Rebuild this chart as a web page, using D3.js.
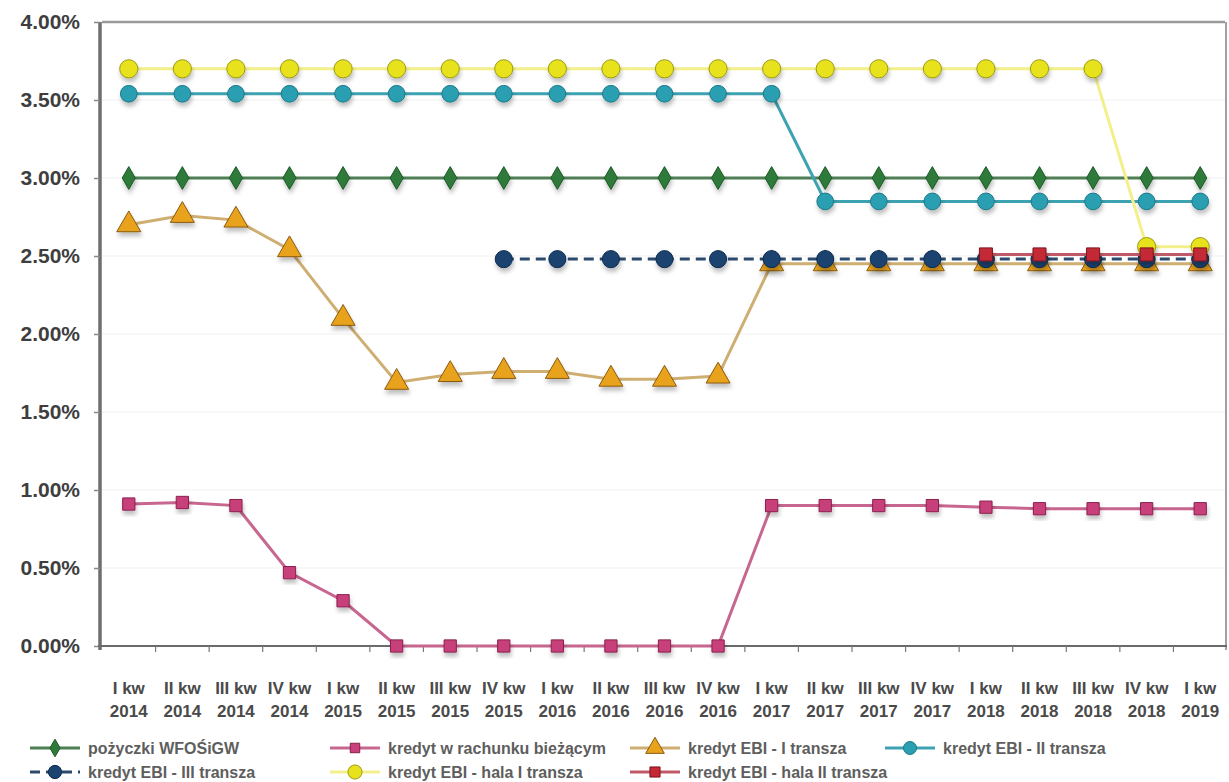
<!DOCTYPE html>
<html>
<head>
<meta charset="utf-8">
<script src="https://cdn.jsdelivr.net/npm/d3@7/dist/d3.min.js"></script>
<style>
  html, body { margin: 0; padding: 0; background: #fff; }
  svg { display: block; font-family: "Liberation Sans", Arial, sans-serif; }
</style>
</head>
<body>
<svg id="chart" width="1229" height="782"></svg>
<script>
// Quarter labels (two lines each)
const quarters = ["I kw", "II kw", "III kw", "IV kw", "I kw", "II kw", "III kw", "IV kw",
  "I kw", "II kw", "III kw", "IV kw", "I kw", "II kw", "III kw", "IV kw",
  "I kw", "II kw", "III kw", "IV kw", "I kw"];
const years = ["2014", "2014", "2014", "2014", "2015", "2015", "2015", "2015",
  "2016", "2016", "2016", "2016", "2017", "2017", "2017", "2017",
  "2018", "2018", "2018", "2018", "2019"];

// Interest rates (%) per quarter; null = no value in that quarter
const wfosigw   = [3.00, 3.00, 3.00, 3.00, 3.00, 3.00, 3.00, 3.00, 3.00, 3.00, 3.00, 3.00, 3.00, 3.00, 3.00, 3.00, 3.00, 3.00, 3.00, 3.00, 3.00];
const rachunek  = [0.91, 0.92, 0.90, 0.47, 0.29, 0.00, 0.00, 0.00, 0.00, 0.00, 0.00, 0.00, 0.90, 0.90, 0.90, 0.90, 0.89, 0.88, 0.88, 0.88, 0.88];
const ebi1      = [2.70, 2.76, 2.73, 2.54, 2.10, 1.69, 1.74, 1.76, 1.76, 1.71, 1.71, 1.73, 2.45, 2.45, 2.45, 2.45, 2.45, 2.45, 2.45, 2.45, 2.45];
const ebi2      = [3.54, 3.54, 3.54, 3.54, 3.54, 3.54, 3.54, 3.54, 3.54, 3.54, 3.54, 3.54, 3.54, 2.85, 2.85, 2.85, 2.85, 2.85, 2.85, 2.85, 2.85];
const ebi3      = [null, null, null, null, null, null, null, 2.48, 2.48, 2.48, 2.48, 2.48, 2.48, 2.48, 2.48, 2.48, 2.48, 2.48, 2.48, 2.48, 2.48];
const hala1     = [3.70, 3.70, 3.70, 3.70, 3.70, 3.70, 3.70, 3.70, 3.70, 3.70, 3.70, 3.70, 3.70, 3.70, 3.70, 3.70, 3.70, 3.70, 3.70, 2.56, 2.56];
const hala2     = [null, null, null, null, null, null, null, null, null, null, null, null, null, null, null, null, 2.51, 2.51, 2.51, 2.51, 2.51];

const yTicks = [0, 0.5, 1.0, 1.5, 2.0, 2.5, 3.0, 3.5, 4.0];

const seriesNames = ["pożyczki WFOŚiGW", "kredyt w rachunku bieżącym", "kredyt EBI - I transza",
  "kredyt EBI - II transza", "kredyt EBI - III transza", "kredyt EBI - hala I transza",
  "kredyt EBI - hala II transza"];

const series = [
  { name: seriesNames[0], values: wfosigw,  line: "#4f7f55", fill: "#2f7a3a", stroke: "#1d5a27", symbol: d3.symbolDiamond,  size: 150, dash: null },
  { name: seriesNames[1], values: rachunek, line: "#c7668f", fill: "#c8407a", stroke: "#8a1f4f", symbol: d3.symbolSquare,   size: 150, dash: null },
  { name: seriesNames[2], values: ebi1,     line: "#cfae72", fill: "#e8a21c", stroke: "#8a5a10", symbol: d3.symbolTriangle, size: 250, dash: null },
  { name: seriesNames[3], values: ebi2,     line: "#3da2b2", fill: "#2a9fb2", stroke: "#1d7886", symbol: d3.symbolCircle,   size: 220, dash: null },
  { name: seriesNames[4], values: ebi3,     line: "#2a4a6e", fill: "#1b4370", stroke: "#0f2c4f", symbol: d3.symbolCircle,   size: 230, dash: "10,6" },
  { name: seriesNames[5], values: hala1,    line: "#f3f08c", fill: "#e8e21e", stroke: "#9a9a10", symbol: d3.symbolCircle,   size: 260, dash: null },
  { name: seriesNames[6], values: hala2,    line: "#c05a68", fill: "#c42a36", stroke: "#7d141c", symbol: d3.symbolSquare,   size: 170, dash: null }
];

const svg = d3.select("#chart");
const margin = { left: 102, right: 1227, top: 22, bottom: 646 };

const x = d3.scaleBand().domain(d3.range(quarters.length)).range([margin.left, margin.right]);
const cx = i => x(i) + x.bandwidth() / 2;
const y = d3.scaleLinear().domain([0, 4]).range([margin.bottom, margin.top]);

// Soft drop shadow under markers
const defs = svg.append("defs");
const f = defs.append("filter").attr("id", "shadow").attr("x", "-50%").attr("y", "-50%").attr("width", "200%").attr("height", "200%");
f.append("feDropShadow").attr("dx", 1).attr("dy", 4).attr("stdDeviation", 2).attr("flood-color", "#000").attr("flood-opacity", 0.25);

// Faint horizontal gridlines
svg.append("g").selectAll("line").data(yTicks.filter(t => t > 0 && t < 4)).join("line")
  .attr("x1", margin.left).attr("x2", margin.right)
  .attr("y1", d => y(d)).attr("y2", d => y(d))
  .attr("stroke", "#f1f1f1").attr("stroke-width", 1);

// Plot frame: top and right edges
svg.append("line").attr("x1", margin.left).attr("x2", margin.right - 2).attr("y1", y(4)).attr("y2", y(4))
  .attr("stroke", "#9a9a9a").attr("stroke-width", 2.5);
svg.append("line").attr("x1", margin.right - 1).attr("x2", margin.right - 1).attr("y1", y(4)).attr("y2", y(0) + 4)
  .attr("stroke", "#a0a0a0").attr("stroke-width", 2);

// Y axis
const yAxis = svg.append("g").attr("transform", `translate(${margin.left - 2},0)`)
  .call(d3.axisLeft(y).tickValues(yTicks).tickSize(6).tickPadding(14).tickFormat(d => d.toFixed(2) + "%"));
yAxis.select(".domain").attr("stroke", "#6e6e6e").attr("stroke-width", 3.5).attr("d", `M0,${y(4)}V${y(0) + 4}`);
yAxis.selectAll(".tick line").attr("stroke", "#888").attr("stroke-width", 1.5);
yAxis.selectAll(".tick text").attr("fill", "#3e3e3e").attr("font-size", 21).attr("font-weight", "bold")
  .attr("font-family", "'Liberation Sans', Arial, sans-serif");

// X axis: baseline, ticks at quarter boundaries, two-line labels
const xAxis = svg.append("g").attr("transform", `translate(0,${y(0)})`);
xAxis.append("line").attr("x1", margin.left - 4).attr("x2", margin.right).attr("y1", 0).attr("y2", 0)
  .attr("stroke", "#6a6a6a").attr("stroke-width", 2);
xAxis.selectAll("line.tk").data(d3.range(1, quarters.length)).join("line").attr("class", "tk")
  .attr("x1", i => x(i)).attr("x2", i => x(i)).attr("y1", 0).attr("y2", 6)
  .attr("stroke", "#777").attr("stroke-width", 1.2);
const lab = xAxis.selectAll("text").data(d3.range(quarters.length)).join("text")
  .attr("text-anchor", "middle").attr("fill", "#4a4a4a").attr("font-size", 17).attr("font-weight", "bold");
lab.append("tspan").attr("x", cx).attr("y", 48).text(i => quarters[i]);
lab.append("tspan").attr("x", cx).attr("y", 71).text(i => years[i]);

// Series: line then markers, later series drawn on top
const line = d3.line().defined(d => d.v != null).x(d => cx(d.i)).y(d => y(d.v));
series.forEach(s => {
  const pts = s.values.map((v, i) => ({ v, i }));
  const g = svg.append("g");
  g.append("path").datum(pts).attr("d", line).attr("fill", "none")
    .attr("stroke", s.line).attr("stroke-width", 3).attr("stroke-dasharray", s.dash);
  g.selectAll("path.m").data(pts.filter(d => d.v != null)).join("path").attr("class", "m")
    .attr("d", d3.symbol().type(s.symbol).size(s.size))
    .attr("transform", d => `translate(${cx(d.i)},${y(d.v)})`)
    .attr("fill", s.fill).attr("stroke", s.stroke).attr("stroke-width", 1)
    .attr("filter", "url(#shadow)");
});

// Legend: two rows
const legendPos = [[30, 748], [330, 748], [630, 748], [885, 748], [30, 772], [330, 772], [630, 772]];
const lg = svg.append("g");
series.forEach((s, k) => {
  const [lx, ly] = legendPos[k];
  const it = lg.append("g").attr("transform", `translate(${lx},${ly})`);
  it.append("line").attr("x1", 0).attr("x2", 50).attr("y1", 0).attr("y2", 0)
    .attr("stroke", s.line).attr("stroke-width", 3).attr("stroke-dasharray", s.dash);
  it.append("path").attr("d", d3.symbol().type(s.symbol).size(s.size * 0.6)).attr("transform", "translate(25,0)")
    .attr("fill", s.fill).attr("stroke", s.stroke).attr("stroke-width", 1);
  it.append("text").attr("x", 58).attr("y", 5.5).attr("fill", "#5e5e5e").attr("font-size", 16)
    .attr("font-weight", "bold").text(s.name);
});
</script>
</body>
</html>
